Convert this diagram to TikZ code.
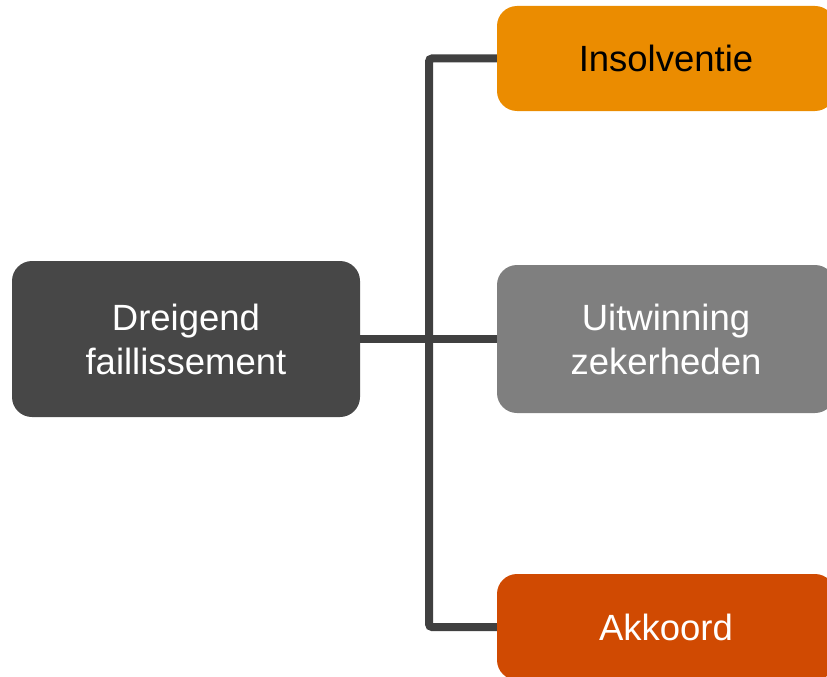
\documentclass[tikz,border=0pt]{standalone}
\usepackage{fontspec}
\setmainfont{Liberation Sans}
\definecolor{darkbox}{HTML}{474747}
\definecolor{linegray}{HTML}{404040}
\definecolor{orangebox}{HTML}{EB8C00}
\definecolor{graybox}{HTML}{7F7F7F}
\definecolor{redbox}{HTML}{D04A02}
\begin{document}
\begin{tikzpicture}[x=1pt,y=-1pt,
  box/.style={rounded corners=20pt, align=center, inner sep=0pt,
    font=\fontsize{36.5}{44}\selectfont},
  conn/.style={draw=linegray, line width=8pt, rounded corners=3pt}]
\useasboundingbox (0,0) rectangle (827,677);
\clip (0,0) rectangle (827,677);
\node[box, fill=darkbox, text=white, minimum width=348pt, minimum height=156pt] (d) at (186,339) {Dreigend\\faillissement};
\node[box, fill=orangebox, text=black, minimum width=338pt, minimum height=105pt] (i) at (666,58.5) {Insolventie};
\node[box, fill=graybox, text=white, minimum width=338pt, minimum height=148pt] (u) at (666,339) {Uitwinning\\zekerheden};
\node[box, fill=redbox, text=white, minimum width=338pt, minimum height=106pt] (a) at (666,627) {Akkoord};
\coordinate (trunk) at (429,339);
\draw[conn] (d.east) -- (u.west);
\draw[conn] (i.west) -| (trunk) |- (a.west);
\end{tikzpicture}
\end{document}
